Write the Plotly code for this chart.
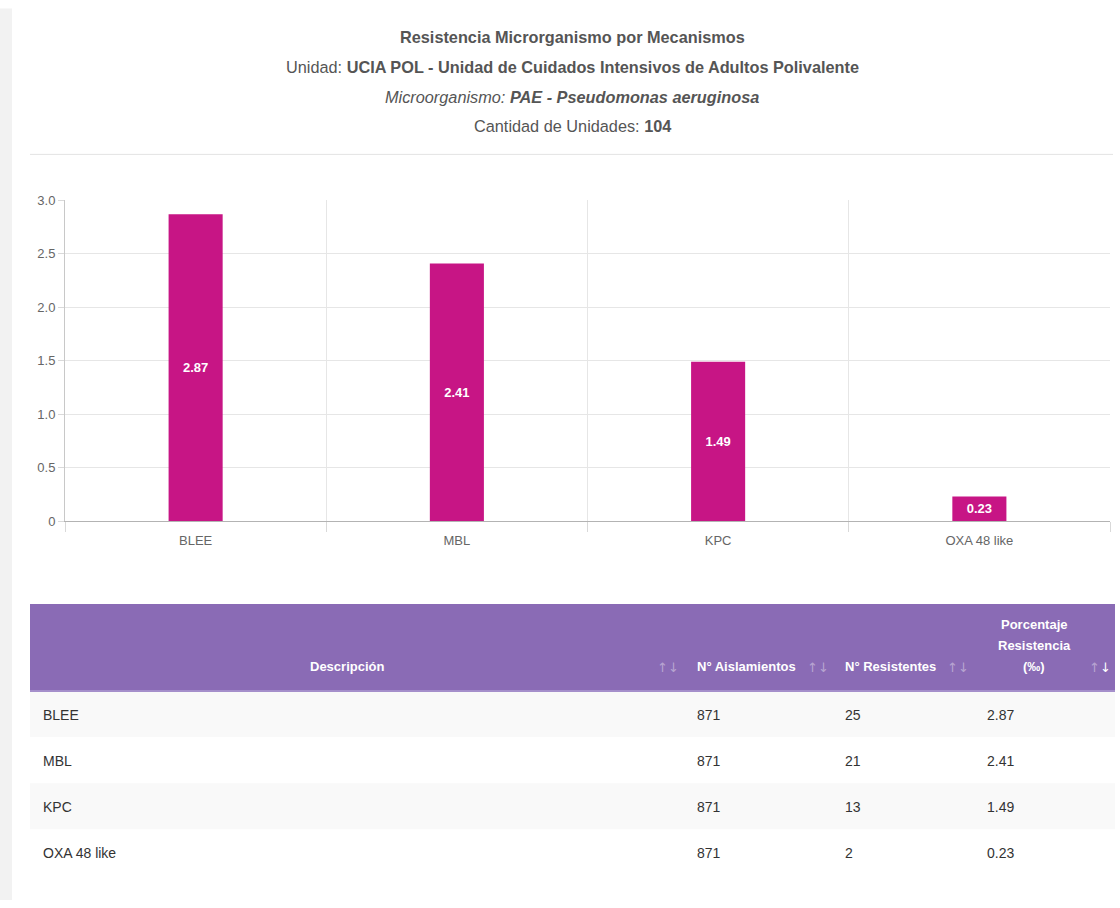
import plotly.graph_objects as go

# ---------------- data ----------------
categorias = ["BLEE", "MBL", "KPC", "OXA 48 like"]
aislamientos = [871, 871, 871, 871]
resistentes = [25, 21, 13, 2]
porcentaje = [2.87, 2.41, 1.49, 0.23]

y_tickvals = [0, 0.5, 1.0, 1.5, 2.0, 2.5, 3.0]
y_ticktext = ["0", "0.5", "1.0", "1.5", "2.0", "2.5", "3.0"]

encabezados = ["Descripción", "N° Aislamientos", "N° Resistentes",
               "Porcentaje<br>Resistencia<br>(‰)"]

titulo_lineas = [
    "<b>Resistencia Microrganismo por Mecanismos</b>",
    "Unidad: <b>UCIA POL - Unidad de Cuidados Intensivos de Adultos Polivalente</b>",
    "<i>Microorganismo: <b>PAE - Pseudomonas aeruginosa</b></i>",
    "Cantidad de Unidades: <b>104</b>",
]

# ---------------- page geometry helpers ----------------
W, H = 1120, 908
FONT = "Liberation Sans, Arial, Helvetica, sans-serif"
# vertical calibration of the photographed page
V_OFF, V_SCALE = 6.5, 0.9843


def px(x):
    return x / W


def py(y):
    return 1 - ((y - V_OFF) / V_SCALE) / H


BAR_COLOR = "#c71585"
HEAD_COLOR = "#8a6bb5"

fig = go.Figure()

fig.add_trace(go.Bar(
    x=categorias,
    y=porcentaje,
    marker=dict(color=BAR_COLOR, line=dict(width=0)),
    text=[f"{v:.2f}" for v in porcentaje],
    texttemplate="<b>%{text}</b>",
    textposition="inside",
    insidetextanchor="middle",
    constraintext="none",
    textfont=dict(family=FONT, size=13, color="white"),
    hoverinfo="x+y",
    showlegend=False,
))

shapes = []
annotations = []

# left card shadow
shapes.append(dict(type="rect", xref="paper", yref="paper",
                   x0=px(0), x1=px(12), y0=0, y1=py(8),
                   fillcolor="#f2f2f2", line=dict(width=0), layer="below"))

# title lines
title_y = [37, 67, 97, 126]
for txt, yy in zip(titulo_lineas, title_y):
    annotations.append(dict(text=txt, xref="paper", yref="paper",
                            x=px(572), y=py(yy), xanchor="center", yanchor="middle",
                            showarrow=False,
                            font=dict(family=FONT, size=16.3, color="#555555")))

# separator
shapes.append(dict(type="line", xref="paper", yref="paper",
                   x0=px(30), x1=px(1113), y0=py(154), y1=py(154),
                   line=dict(color="#e3e3e3", width=1)))

# ---------------- table ----------------
col_edges = [30, 685, 833, 975, 1115]
head_top, head_bot = 604, 691
row_h = (876 - 691) / len(categorias)

shapes.append(dict(type="rect", xref="paper", yref="paper",
                   x0=px(col_edges[0]), x1=px(col_edges[-1]),
                   y0=py(head_bot), y1=py(head_top),
                   fillcolor=HEAD_COLOR, line=dict(width=0)))
shapes.append(dict(type="line", xref="paper", yref="paper",
                   x0=px(col_edges[0]), x1=px(col_edges[-1]),
                   y0=py(head_bot), y1=py(head_bot),
                   line=dict(color="#a58fcb", width=2)))

head_align = ["center", "left", "left", "center"]
head_x = [347, 695, 843, 1034]
line_gap = 21
for txt, al, hx in zip(encabezados, head_align, head_x):
    lines = txt.split("<br>")
    for k, ln in enumerate(lines):
        yy = 667 - (len(lines) - 1 - k) * line_gap
        annotations.append(dict(text=f"<b>{ln}</b>", xref="paper", yref="paper",
                                x=px(hx), y=py(yy),
                                xanchor="center" if al == "center" else "left",
                                yanchor="middle", showarrow=False,
                                font=dict(family=FONT, size=13, color="white")))

icon_x = [668, 818, 958, 1100]
for i, ix in enumerate(icon_x):
    last = i == len(icon_x) - 1
    txt = "<span style='color:rgba(255,255,255,0.4)'>↑</span>↓" if last else "↑↓"
    annotations.append(dict(text=txt, xref="paper", yref="paper",
                            x=px(ix), y=py(668), xanchor="center", yanchor="middle",
                            showarrow=False,
                            font=dict(family="DejaVu Sans, " + FONT, size=13,
                                      color="white" if last else "rgba(255,255,255,0.4)")))

cell_x = [41, 695, 843, 985]
for i in range(len(categorias)):
    top = head_bot + i * row_h
    bot = top + row_h
    shapes.append(dict(type="rect", xref="paper", yref="paper",
                       x0=px(col_edges[0]), x1=px(col_edges[-1]),
                       y0=py(bot), y1=py(top),
                       fillcolor="#f9f9f9" if i % 2 == 0 else "#ffffff",
                       line=dict(width=0), layer="below"))
    vals = [categorias[i], str(aislamientos[i]), str(resistentes[i]), f"{porcentaje[i]:.2f}"]
    for v, cx in zip(vals, cell_x):
        annotations.append(dict(text=v, xref="paper", yref="paper",
                                x=px(cx), y=py((top + bot) / 2 + 0.5),
                                xanchor="left", yanchor="middle", showarrow=False,
                                font=dict(family=FONT, size=14, color="#333333")))

fig.update_layout(
    width=W, height=H,
    margin=dict(l=0, r=0, t=0, b=0),
    paper_bgcolor="white",
    plot_bgcolor="white",
    bargap=0.793,
    font=dict(family=FONT, size=13, color="#666666"),
    xaxis=dict(
        domain=[px(65), px(1110)],
        anchor="y",
        type="category",
        tickson="boundaries",
        ticks="outside", ticklen=10, tickcolor="#d9d9d9", tickwidth=1,
        ticklabelstandoff=7,
        showgrid=True, gridcolor="#e6e6e6", gridwidth=1,
        showline=True, linecolor="#b3b3b3", linewidth=1,
        tickfont=dict(family=FONT, size=13, color="#666666"),
        fixedrange=True,
    ),
    yaxis=dict(
        domain=[py(521), py(200)],
        anchor="x",
        range=[0, 3],
        tickvals=y_tickvals, ticktext=y_ticktext,
        ticks="outside", ticklen=6, tickcolor="#d9d9d9", tickwidth=1,
        showgrid=True, gridcolor="#e6e6e6", gridwidth=1,
        zeroline=False,
        showline=True, linecolor="#c8c8c8", linewidth=1,
        tickfont=dict(family=FONT, size=13, color="#666666"),
        fixedrange=True,
    ),
    shapes=shapes,
    annotations=annotations,
)

fig.write_html(
    "out.html",
    config={"displayModeBar": False},
    post_script=(
        "var gd=document.getElementById('{plot_id}');"
        "gd.style.position='absolute';gd.style.left='0px';gd.style.top='0px';"
        "document.documentElement.style.margin='0';"
        "document.body.style.margin='0';"
        "document.documentElement.style.overflow='hidden';"
        "document.body.style.overflow='hidden';"
    ),
)
